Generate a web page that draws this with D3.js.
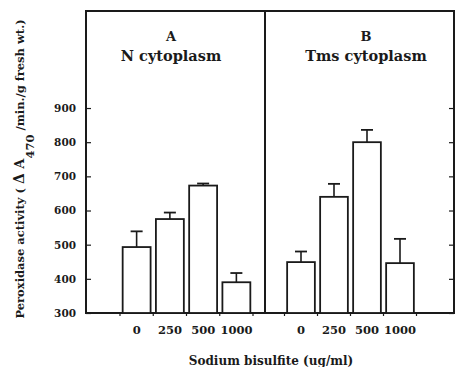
<!DOCTYPE html>
<html><head><meta charset="utf-8">
<script src="https://cdn.jsdelivr.net/npm/d3@7"></script>
<style>
body{margin:0;background:#fff;}
text{font-family:"DejaVu Serif",serif;font-weight:bold;fill:#1a1a1a;}
</style></head>
<body><svg id="c" width="456" height="367"></svg>
<script>
const categories = ["0","250","500","1000"];
const nValues = [493, 575, 673, 390];
const nErrors = [46, 19, 6, 27];
const tmsValues = [449, 640, 800, 446];
const tmsErrors = [31, 38, 36, 71];
const yMajorTicks = [300,400,500,600,700,800,900];
const panelLetters = ["A","B"];
const panelNames = ["N cytoplasm","Tms cytoplasm"];
const xTitle = "Sodium bisulfite (ug/ml)";

const svg = d3.select("#c");
const ink = "#1a1a1a";
const pLeft = 86, pRight = 454, pTop = 11, pBottom = 313, divider = 265;

const y = d3.scaleLinear().domain([300, 1184]).range([pBottom, pTop]);
const minor = d3.range(300, 901, 20);

svg.append("rect").attr("x", pLeft).attr("y", pTop).attr("width", pRight-pLeft).attr("height", pBottom-pTop)
  .attr("fill","none").attr("stroke",ink).attr("stroke-width",2);
svg.append("line").attr("x1",divider).attr("x2",divider).attr("y1",pTop).attr("y2",pBottom)
  .attr("stroke",ink).attr("stroke-width",2);

const gl = svg.append("g").attr("transform",`translate(${pLeft},0)`);
gl.call(d3.axisLeft(y).tickValues(minor).tickSizeInner(-3).tickSizeOuter(0).tickFormat(""));
gl.call(d3.axisLeft(y).tickValues(yMajorTicks).tickSizeInner(-5).tickSizeOuter(0).tickPadding(10).tickFormat(d3.format("d")));
gl.selectAll(".domain").remove();
gl.selectAll("line").attr("stroke",ink).attr("stroke-width",1.2);
gl.selectAll("text").attr("font-size",10.5).style("font-family","DejaVu Serif").style("font-weight","bold").attr("fill",ink);

const gr = svg.append("g").attr("transform",`translate(${pRight},0)`);
gr.call(d3.axisRight(y).tickValues(minor).tickSizeInner(-3).tickSizeOuter(0).tickFormat(""));
gr.call(d3.axisRight(y).tickValues(yMajorTicks).tickSizeInner(-5).tickSizeOuter(0).tickFormat(""));
gr.selectAll(".domain").remove();
gr.selectAll("line").attr("stroke",ink).attr("stroke-width",1.2);

const panels = [
  {vals:nValues, errs:nErrors, range:[120,253], cx:171},
  {vals:tmsValues, errs:tmsErrors, range:[284.5,416.5], cx:366}
];

panels.forEach((p,i)=>{
  const x = d3.scaleBand().domain(categories).range(p.range).paddingInner(0.16).paddingOuter(0.08);
  const g = svg.append("g");
  const data = categories.map((c,j)=>({c, v:p.vals[j], e:p.errs[j]}));
  g.selectAll(".eb").data(data).join("line").attr("class","eb")
    .attr("x1",d=>x(d.c)+x.bandwidth()/2).attr("x2",d=>x(d.c)+x.bandwidth()/2)
    .attr("y1",d=>y(d.v)).attr("y2",d=>y(d.v+d.e)).attr("stroke",ink).attr("stroke-width",1.6);
  g.selectAll(".cap").data(data).join("line").attr("class","cap")
    .attr("x1",d=>x(d.c)+x.bandwidth()/2-6).attr("x2",d=>x(d.c)+x.bandwidth()/2+6)
    .attr("y1",d=>y(d.v+d.e)).attr("y2",d=>y(d.v+d.e)).attr("stroke",ink).attr("stroke-width",1.8);
  g.selectAll("rect").data(data).join("rect")
    .attr("x",d=>x(d.c)).attr("width",x.bandwidth())
    .attr("y",d=>y(d.v)).attr("height",d=>y(300)-y(d.v))
    .attr("fill","#fff").attr("stroke",ink).attr("stroke-width",1.8);
  const bounds = d3.range(categories.length+1).map(k=>p.range[0]+k*(p.range[1]-p.range[0])/categories.length);
  g.selectAll(".xt").data(bounds).join("line").attr("class","xt")
    .attr("x1",d=>d).attr("x2",d=>d).attr("y1",pBottom).attr("y2",pBottom+3)
    .attr("stroke",ink).attr("stroke-width",1.2);
  const ga = svg.append("g").attr("transform",`translate(0,${pBottom})`)
    .call(d3.axisBottom(x).tickSize(0).tickPadding(13));
  ga.select(".domain").remove();
  ga.selectAll("text").attr("font-size",11.5).style("font-family","DejaVu Serif").style("font-weight","bold").attr("fill",ink);
  svg.append("text").attr("x",p.cx).attr("y",41).attr("text-anchor","middle").attr("font-size",13).text(panelLetters[i]);
  svg.append("text").attr("x",p.cx).attr("y",61).attr("text-anchor","middle").attr("font-size",14.5).text(panelNames[i]);
});

svg.append("text").attr("x",271).attr("y",365).attr("text-anchor","middle").attr("font-size",12).text(xTitle);

const yt = svg.append("text").attr("transform","translate(24,169) rotate(-90)").attr("text-anchor","middle").attr("font-size",11.5);
yt.append("tspan").text("Peroxidase activity ( ");
yt.append("tspan").attr("font-size",14).text("Δ");
yt.append("tspan").attr("font-size",13).text(" A");
yt.append("tspan").attr("dy",10).attr("font-size",11.5).text("470");
yt.append("tspan").attr("dy",-10).text(" /min./g fresh wt.)");
</script></body></html>
